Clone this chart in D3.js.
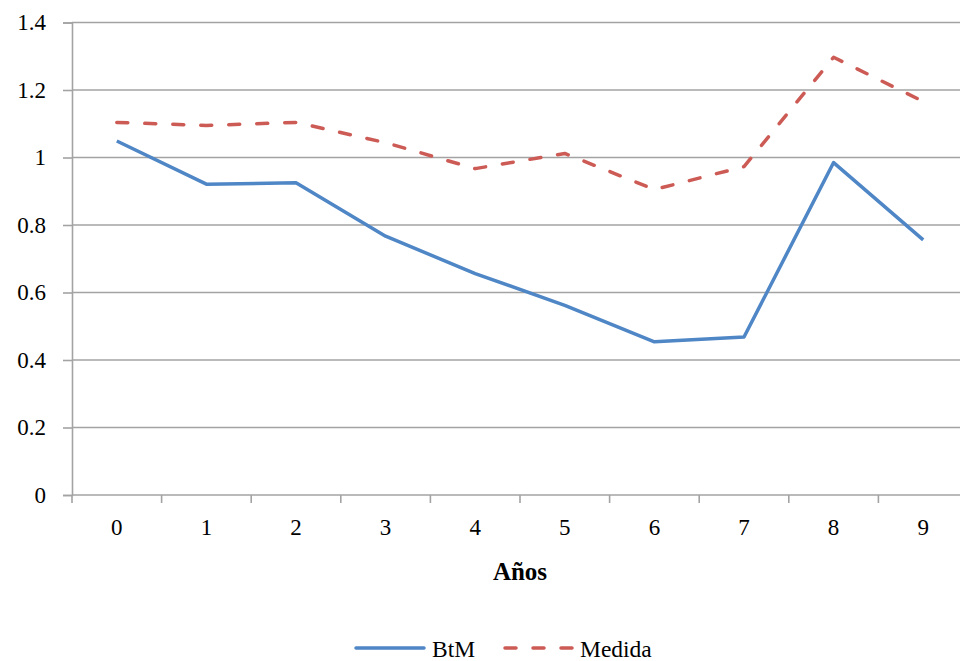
<!DOCTYPE html>
<html>
<head>
<meta charset="utf-8">
<script src="https://cdn.jsdelivr.net/npm/d3@7"></script>
<style>
  html, body { margin: 0; padding: 0; background: #fff; }
  svg { display: block; font-family: "Liberation Serif", "Times New Roman", serif; }
</style>
</head>
<body>
<svg id="chart" width="960" height="661"></svg>
<script>
// Years since event
const years = ["0", "1", "2", "3", "4", "5", "6", "7", "8", "9"];
// Book-to-market series
const btm = [1.049, 0.921, 0.925, 0.767, 0.656, 0.562, 0.454, 0.468, 0.985, 0.756];
// Measure series
const medida = [1.104, 1.095, 1.104, 1.044, 0.967, 1.012, 0.905, 0.973, 1.297, 1.166];
// Y axis ticks
const yTicks = [0, 0.2, 0.4, 0.6, 0.8, 1, 1.2, 1.4];

const svg = d3.select("#chart");
const plotLeft = 72, plotRight = 968, plotTop = 22.5, plotBottom = 495;

const x = d3.scaleBand().domain(years).range([plotLeft, plotRight]);
const y = d3.scaleLinear().domain([0, 1.4]).range([plotBottom, plotTop]);
const cx = d => x(d) + x.bandwidth() / 2;

const gridColor = "#a3a3a3";
const serif = "'Liberation Serif', 'Times New Roman', serif";

// horizontal gridlines
svg.append("g")
  .selectAll("line")
  .data(yTicks.filter(t => t > 0))
  .join("line")
  .attr("x1", plotLeft).attr("x2", 960)
  .attr("y1", d => y(d)).attr("y2", d => y(d))
  .attr("stroke", gridColor).attr("stroke-width", 1.6);

// y axis
const yAxis = svg.append("g")
  .attr("transform", `translate(${plotLeft},0)`)
  .call(d3.axisLeft(y).tickValues(yTicks).tickSize(9).tickPadding(17)
    .tickFormat(d => String(+d.toFixed(1))));
yAxis.select(".domain").attr("stroke", gridColor).attr("stroke-width", 1.6);
yAxis.selectAll(".tick line").attr("stroke", gridColor).attr("stroke-width", 1.6);
yAxis.selectAll(".tick text").attr("font-size", 23).attr("fill", "#000")
  .attr("font-family", serif);

// x axis baseline
svg.append("line")
  .attr("x1", plotLeft).attr("x2", 960)
  .attr("y1", plotBottom).attr("y2", plotBottom)
  .attr("stroke", gridColor).attr("stroke-width", 1.6);

// x tick marks at band boundaries
svg.append("g")
  .selectAll("line")
  .data(years)
  .join("line")
  .attr("x1", d => x(d)).attr("x2", d => x(d))
  .attr("y1", plotBottom).attr("y2", plotBottom + 8)
  .attr("stroke", gridColor).attr("stroke-width", 1.6);

// x labels
const xAxis = svg.append("g")
  .attr("transform", `translate(0,${plotBottom})`)
  .call(d3.axisBottom(x).tickSize(0).tickPadding(24));
xAxis.select(".domain").remove();
xAxis.selectAll(".tick text").attr("font-size", 23).attr("fill", "#000")
  .attr("font-family", serif);

// axis title
svg.append("text")
  .attr("x", (plotLeft + plotRight) / 2).attr("y", 580)
  .attr("text-anchor", "middle")
  .attr("font-size", 25).attr("font-weight", "bold")
  .text("Años");

const line = d3.line().x((d, i) => cx(years[i])).y(d => y(d));

const blue = "#4f86c6", red = "#cd5b55";

svg.append("path")
  .datum(btm)
  .attr("d", line)
  .attr("fill", "none").attr("stroke", blue)
  .attr("stroke-width", 3.5).attr("stroke-linejoin", "round");

svg.append("path")
  .datum(medida)
  .attr("d", line)
  .attr("fill", "none").attr("stroke", red)
  .attr("stroke-width", 3.5).attr("stroke-linejoin", "round")
  .attr("stroke-linecap", "round")
  .attr("stroke-dasharray", "11,17");

// legend
const lg = svg.append("g").attr("font-size", 23.5);
lg.append("line").attr("x1", 356).attr("x2", 424).attr("y1", 648).attr("y2", 648)
  .attr("stroke", blue).attr("stroke-width", 3.5).attr("stroke-linecap", "round");
lg.append("text").attr("x", 432).attr("y", 657).text("BtM");
lg.append("line").attr("x1", 505).attr("x2", 573).attr("y1", 648).attr("y2", 648)
  .attr("stroke", red).attr("stroke-width", 3.5).attr("stroke-linecap", "round")
  .attr("stroke-dasharray", "11,17");
lg.append("text").attr("x", 580).attr("y", 657).text("Medida");
</script>
</body>
</html>
